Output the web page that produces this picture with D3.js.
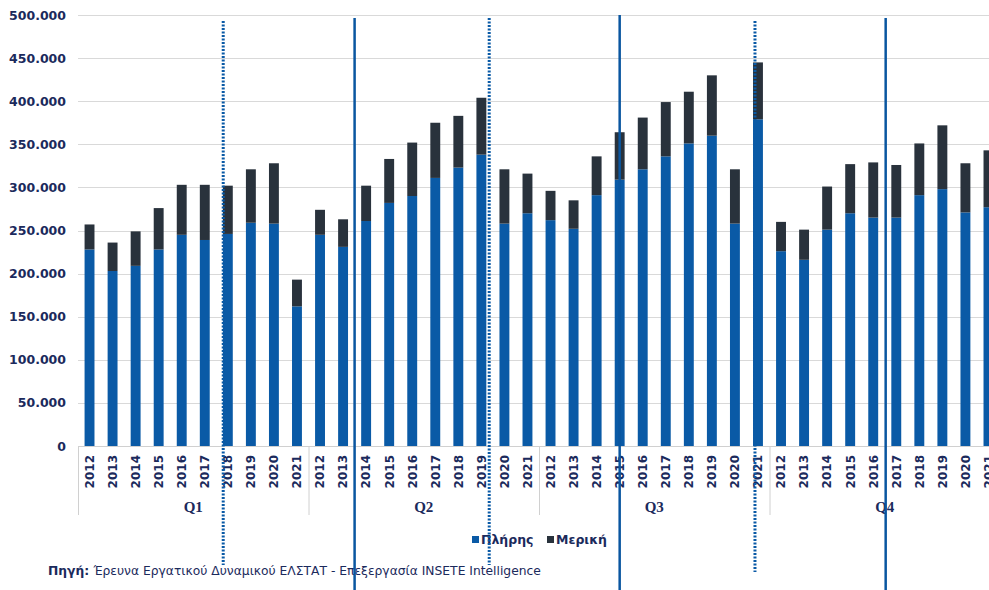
<!DOCTYPE html>
<html>
<head>
<meta charset="utf-8">
<script src="https://cdn.jsdelivr.net/npm/d3@7"></script>
<style>
  body { margin: 0; background: #fff; }
  svg { display: block; }
</style>
</head>
<body>
<div id="chart"></div>
<script>
// chart data, thousands of employees
var quarters = ["Q1", "Q2", "Q3", "Q4"];
var years = ["2012", "2013", "2014", "2015", "2016", "2017", "2018", "2019", "2020", "2021"];

var fullTime = [
  228, 203, 209, 228, 245, 239, 246, 259, 258, 162,
  245, 231, 261, 282, 290, 311, 323, 338, 258, 270,
  262, 252, 291, 309, 321, 336, 351, 360, 258, 379,
  226, 216, 251, 270, 265, 265, 291, 298, 271, 277
];
var totals = [
  257, 236, 249, 276, 303, 303, 302, 321, 328, 193,
  274, 263, 302, 333, 352, 375, 383, 404, 321, 316,
  296, 285, 336, 364, 381, 399, 411, 430, 321, 445,
  260, 251, 301, 327, 329, 326, 351, 372, 328, 343
];
var partTime = totals.map((t, i) => t - fullTime[i]);

var yTicks = [0, 50, 100, 150, 200, 250, 300, 350, 400, 450, 500];
var seriesNames = ["Πλήρης", "Μερική"];

// build rows for the stack
var rows = [];
quarters.forEach(function(q, qi) {
  years.forEach(function(y, yi) {
    var i = qi * years.length + yi;
    rows.push({ key: q + "-" + y, q: q, year: y, "Πλήρης": fullTime[i], "Μερική": partTime[i] });
  });
});

var svgWidth = 989;
var svgHeight = 590;
// right margin is negative on purpose: the last bars run past the edge like the original
var margin = { top: 15, right: -11, bottom: 144, left: 78 };
var chartWidth = svgWidth - margin.left - margin.right;
var chartHeight = svgHeight - margin.top - margin.bottom;

var navy = "#1b2a5c";
var colors = { "Πλήρης": "#0a5aa6", "Μερική": "#29323c" };

var svg = d3.select("#chart")
  .append("svg")
  .attr("width", svgWidth)
  .attr("height", svgHeight);

var chartGroup = svg.append("g")
  .attr("transform", `translate(${margin.left}, ${margin.top})`);

var xScale = d3.scaleBand()
  .domain(rows.map(d => d.key))
  .range([0, chartWidth])
  .paddingInner(0.57)
  .paddingOuter(0.285);

var yScale = d3.scaleLinear()
  .domain([0, 500])
  .range([chartHeight, 0]);

var fmt = d3.formatLocale({ decimal: ",", thousands: ".", grouping: [3], currency: ["", "€"] }).format(",.0f");

// gridlines
chartGroup.append("g")
  .selectAll("line")
  .data(yTicks.slice(1))
  .enter()
  .append("line")
  .attr("x1", 0)
  .attr("x2", chartWidth)
  .attr("y1", d => Math.round(yScale(d)) + 0.5)
  .attr("y2", d => Math.round(yScale(d)) + 0.5)
  .attr("stroke", "#d9d9d9")
  .attr("stroke-width", 1);

// y axis
var leftAxis = d3.axisLeft(yScale)
  .tickValues(yTicks)
  .tickSize(0)
  .tickPadding(12)
  .tickFormat(d => fmt(d * 1000));

var yAxisG = chartGroup.append("g").call(leftAxis);
yAxisG.select(".domain").remove();
yAxisG.selectAll("text")
  .attr("font-family", "DejaVu Sans, Verdana, sans-serif")
  .attr("font-weight", "bold")
  .attr("font-size", "12.5px")
  .attr("fill", navy);

// stacked bars
var stack = d3.stack().keys(seriesNames);
var layers = stack(rows);

chartGroup.selectAll(".layer")
  .data(layers)
  .enter()
  .append("g")
  .attr("class", "layer")
  .attr("fill", d => colors[d.key])
  .selectAll("rect")
  .data(d => d)
  .enter()
  .append("rect")
  .attr("x", d => xScale(d.data.key))
  .attr("width", xScale.bandwidth())
  .attr("y", d => yScale(d[1]))
  .attr("height", d => yScale(d[0]) - yScale(d[1]));

// x axis line
chartGroup.append("line")
  .attr("x1", 0)
  .attr("x2", chartWidth)
  .attr("y1", chartHeight + 0.5)
  .attr("y2", chartHeight + 0.5)
  .attr("stroke", "#d0d0d0");

// year labels
var step = xScale.step();
chartGroup.selectAll(".yearLabel")
  .data(rows)
  .enter()
  .append("text")
  .attr("class", "yearLabel")
  .attr("transform", d => `translate(${xScale(d.key) + xScale.bandwidth() / 2}, ${chartHeight + 9}) rotate(-90)`)
  .attr("dy", "0.36em")
  .attr("text-anchor", "end")
  .attr("font-family", "DejaVu Sans, Verdana, sans-serif")
  .attr("font-weight", "bold")
  .attr("font-size", "12px")
  .attr("fill", navy)
  .text(d => d.year);

// quarter separators and labels
var groupWidth = step * years.length;
chartGroup.selectAll(".sep")
  .data(quarters)
  .enter()
  .append("line")
  .attr("class", "sep")
  .attr("x1", (d, i) => i * groupWidth + 0.5)
  .attr("x2", (d, i) => i * groupWidth + 0.5)
  .attr("y1", chartHeight)
  .attr("y2", chartHeight + 69)
  .attr("stroke", "#d0d0d0");

chartGroup.selectAll(".qLabel")
  .data(quarters)
  .enter()
  .append("text")
  .attr("class", "qLabel")
  .attr("x", (d, i) => i * groupWidth + groupWidth / 2)
  .attr("y", chartHeight + 66)
  .attr("text-anchor", "middle")
  .attr("font-family", "Liberation Serif, serif")
  .attr("font-weight", "bold")
  .attr("font-size", "15px")
  .attr("fill", navy)
  .text(d => d);

// legend
var legend = svg.append("g")
  .attr("transform", "translate(472, 540)");
var legendX = [0, 75];
seriesNames.forEach(function(name, i) {
  var g = legend.append("g").attr("transform", `translate(${legendX[i]}, 0)`);
  g.append("rect")
    .attr("x", 0)
    .attr("y", -4)
    .attr("width", 7)
    .attr("height", 7)
    .attr("fill", colors[name]);
  g.append("text")
    .attr("x", 9)
    .attr("y", 0)
    .attr("dy", "0.35em")
    .attr("font-family", "DejaVu Sans, Verdana, sans-serif")
    .attr("font-weight", "bold")
    .attr("font-size", "12.5px")
    .attr("fill", navy)
    .text(name);
});

// source note
var source = svg.append("text")
  .attr("x", 48)
  .attr("y", 575)
  .attr("font-family", "DejaVu Sans, Verdana, sans-serif")
  .attr("font-size", "12.3px")
  .attr("fill", navy);
source.append("tspan").attr("font-weight", "bold").text("Πηγή: ");
source.append("tspan").text("Έρευνα Εργατικού Δυναμικού ΕΛΣΤΑΤ - Επεξεργασία INSETE Intelligence");

// marker lines drawn over the chart, placed on categories
var solidMarks = [
  { key: "Q2-2013", off: 1.0, top: 18 },
  { key: "Q3-2015", off: 0.5, top: 15 },
  { key: "Q4-2016", off: 1.04, top: 18 }
];
var dottedMarks = [
  { key: "Q1-2018", off: 0.3, top: 21, bottom: 565 },
  { key: "Q2-2019", off: 0.84, top: 18, bottom: 565 },
  { key: "Q3-2021", off: 0.37, top: 21, bottom: 572 }
];
var xAt = d => margin.left + xScale(d.key) - (step - xScale.bandwidth()) / 2 + d.off * step;

svg.selectAll(".solidMark")
  .data(solidMarks)
  .enter()
  .append("line")
  .attr("x1", xAt)
  .attr("x2", xAt)
  .attr("y1", d => d.top)
  .attr("y2", svgHeight)
  .attr("stroke", "#0a56a0")
  .attr("stroke-width", 2.5);

svg.selectAll(".dotMark")
  .data(dottedMarks)
  .enter()
  .append("line")
  .attr("x1", xAt)
  .attr("x2", xAt)
  .attr("y1", d => d.top)
  .attr("y2", d => d.bottom)
  .attr("stroke", "#0a5aa6")
  .attr("stroke-width", 3)
  .attr("stroke-dasharray", "2,1.5");
</script>
</body>
</html>
